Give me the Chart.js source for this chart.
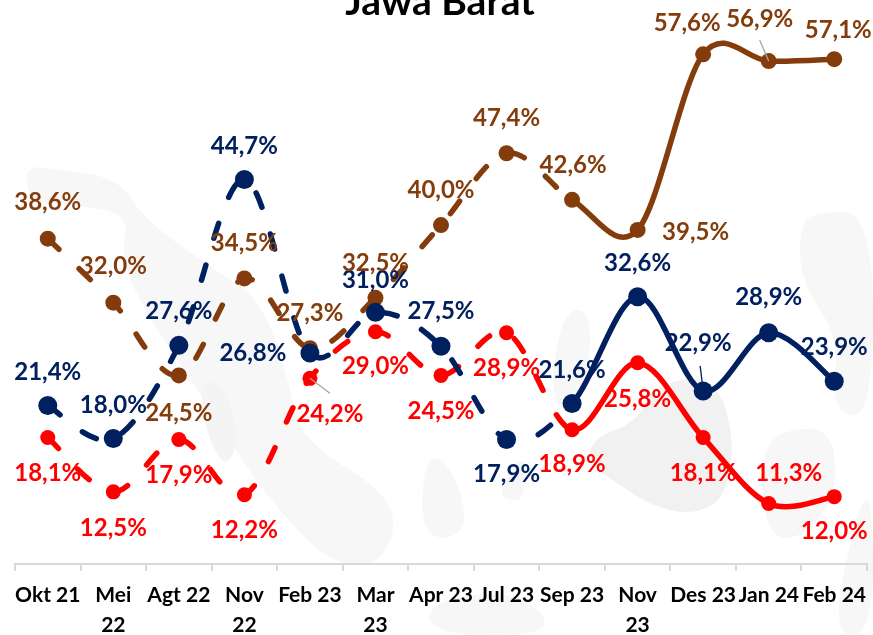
<!DOCTYPE html>
<html><head><meta charset="utf-8">
<script src="https://cdn.jsdelivr.net/npm/chart.js@4"></script>
<style>html,body{margin:0;padding:0;background:#fff}#w{width:873px;height:635px;position:relative;overflow:hidden}</style>
</head><body><div id="w"><canvas id="c" width="873" height="635"></canvas></div>
<script>
const categories=['Okt 21',['Mei','22'],'Agt 22',['Nov','22'],'Feb 23',['Mar','23'],'Apr 23','Jul 23','Sep 23',['Nov','23'],'Des 23','Jan 24','Feb 24'];
const navyValues=[21.4,18.0,27.6,44.7,26.8,31.0,27.5,17.9,21.6,32.6,22.9,28.9,23.9];
const brownValues=[38.6,32.0,24.5,34.5,27.3,32.5,40.0,47.4,42.6,39.5,57.6,56.9,57.1];
const redValues=[18.1,12.5,17.9,12.2,24.2,29.0,24.5,28.9,18.9,25.8,18.1,11.3,12.0];
const navyLabelShift=[[0,-33],[0,-33],[0,-34],[0,-33],[-57,0],[0,-32],[0,-35],[0,35],[0,-33],[0,-34],[-5,-48],[0,-35],[0,-34]];
const brownLabelShift=[[0,-36],[0,-36],[0,38],[0,-35],[0,-35],[0,-35],[0,-35],[0,-35],[1,-35],[58,2],[-16,-31],[-9,-42],[4,-29]];
const redLabelShift=[[0,36],[0,36],[0,36],[0,36],[20,36],[0,35],[0,36],[0,36],[0,35],[0,36],[0,36],[20,-30],[0,35]];
const NAVY='#002060',BROWN='#843C0C',RED='#FF0000';
const lastDashed=8;
const seg={borderDash:c=>c.p0DataIndex<lastDashed?[15.5,28]:undefined};
function ds(data,color,r,shift){return{data,borderColor:color,backgroundColor:color,borderWidth:5.5,borderCapStyle:'round',borderJoinStyle:'round',pointRadius:r,pointHoverRadius:r,pointBorderWidth:0,pointBackgroundColor:color,tension:0.4,fill:false,segment:seg,labelShift:shift,clip:false};}
const blobs=[
 ['#f7f7f7',[[24,165],[60,170],[118,178],[145,220],[215,270],[262,300],[290,385],[300,440],[400,500],[385,565],[330,565],[270,500],[235,450],[195,385],[150,320],[120,260],[130,215],[80,205],[30,205]]],
 ['#f1f1f1',[[590,440],[640,420],[650,385],[715,375],[735,440],[725,500],[690,515],[650,505],[620,485],[590,465]]],
 ['#f7f7f7',[[552,370],[565,310],[590,310],[590,370],[572,410],[555,405]]],
 ['#f7f7f7',[[800,225],[815,212],[873,212],[873,420],[830,410],[840,340],[800,280]]],
 ['#f7f7f7',[[760,440],[810,425],[835,440],[835,500],[800,540],[765,535]]],
 ['#f4f4f4',[[200,380],[225,385],[240,440],[225,470],[205,430]]],
 ['#f7f7f7',[[425,450],[455,470],[470,535],[420,540]]],
 ['#f7f7f7',[[500,490],[525,450],[525,500],[505,500]]],
 ['#f7f7f7',[[430,600],[520,590],[560,635],[430,635]]],
 ['#f7f7f7',[[860,500],[873,500],[873,635],[830,635]]]
];
const decor={id:'decor',
 beforeDraw(ch){const x=ch.ctx;x.save();
  for(const [col,pts] of blobs){x.fillStyle=col;x.beginPath();const n=pts.length;
   const mid=(a,b)=>[(a[0]+b[0])/2,(a[1]+b[1])/2];const s=mid(pts[n-1],pts[0]);x.moveTo(s[0],s[1]);
   for(let i=0;i<n;i++){const m=mid(pts[i],pts[(i+1)%n]);x.quadraticCurveTo(pts[i][0],pts[i][1],m[0],m[1]);}
   x.closePath();x.fill();}
  x.restore();},
 beforeDatasetsDraw(ch){
  // uniform Catmull-Rom control points, the way the source's smoothed lines bend
  ch.data.datasets.forEach((d,di)=>{const m=ch.getDatasetMeta(di);m.dataset.updateControlPoints(ch.chartArea);const P=m.data;
   P.forEach((p,i)=>{const a=P[Math.max(i-1,0)],b=P[Math.min(i+1,P.length-1)];
    p.cp1x=p.x-(b.x-a.x)/6;p.cp1y=p.y-(b.y-a.y)/6;p.cp2x=p.x+(b.x-a.x)/6;p.cp2y=p.y+(b.y-a.y)/6;});});
 },
 afterDatasetsDraw(ch){const x=ch.ctx;x.save();
  x.font='bold 39px Lato';x.fillStyle='#000';x.textAlign='center';x.textBaseline='alphabetic';x.fillText('Jawa Barat',440,15);
  const pt=(d,i)=>ch.getDatasetMeta(d).data[i];
  const leader=(d,i,dx,dy,col)=>{const p=pt(d,i);x.strokeStyle=col;x.lineWidth=1.3;x.beginPath();x.moveTo(p.x,p.y);x.lineTo(p.x+dx,p.y+dy);x.stroke();};
  leader(1,4,20,15,'#a6a6a6');leader(2,11,-9,-21,'#a6a6a6');leader(0,10,-3,-25,'#002060');
  x.font='bold 24px Lato';x.textBaseline='middle';
  ch.data.datasets.forEach((d,di)=>{const m=ch.getDatasetMeta(di);x.fillStyle=d.borderColor;
   d.data.forEach((v,i)=>{const p=m.data[i],s=d.labelShift[i];x.fillText(v.toFixed(1).replace('.',',')+'%',p.x+s[0],p.y+s[1]);});});
  x.restore();}
};
new Chart(document.getElementById('c'),{type:'line',plugins:[decor],
 data:{labels:categories,datasets:[ds(navyValues,NAVY,9.5,navyLabelShift),ds(redValues,RED,7.5,redLabelShift),ds(brownValues,BROWN,8,brownLabelShift)]},
 options:{responsive:false,animation:false,layout:{autoPadding:false,padding:{left:15,right:6,top:0,bottom:0}},
  plugins:{legend:{display:false},tooltip:{enabled:false},title:{display:false}},
  scales:{
   y:{display:false,min:5.06,max:63.2},
   x:{offset:true,afterFit(s){s.height=71;s.paddingLeft=0;s.paddingRight=0;},border:{color:'#d9d9d9',width:2},
      grid:{drawOnChartArea:false,drawTicks:true,tickLength:7,color:'#d9d9d9',lineWidth:2,offset:true},
      ticks:{color:'#000',font:{family:'Lato',weight:'bold',size:21,lineHeight:1.45},autoSkip:false,maxRotation:0,minRotation:0,padding:9}}
  }}});
</script></body></html>
